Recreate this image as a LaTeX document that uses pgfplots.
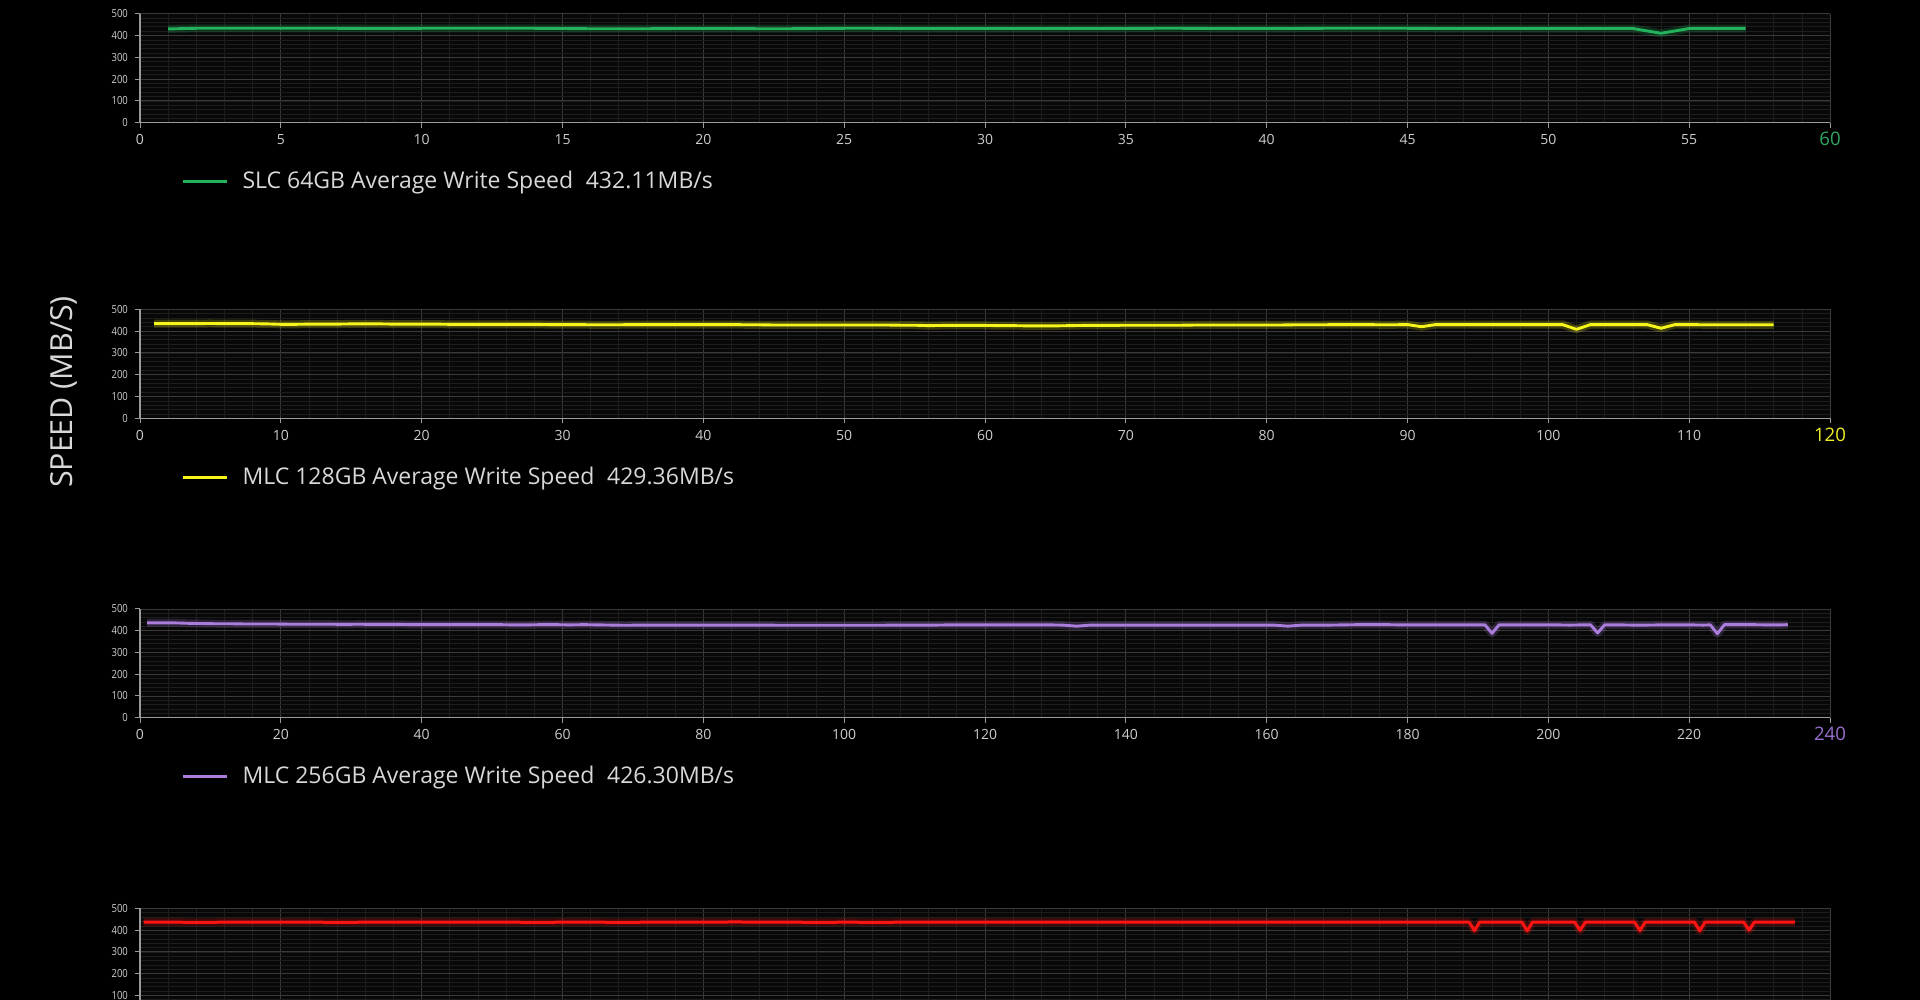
\documentclass[border=0pt]{standalone}
\usepackage{pgfplots}
\pgfplotsset{compat=1.18}
\usepackage{pgfplotstable}
\usepackage{fontspec}
\setmainfont{Open Sans}
\newfontfamily\condfont[FakeStretch=0.85]{Open Sans}

\definecolor{cgreen}{HTML}{22B35C}
\definecolor{lgreen}{HTML}{2DA862}
\definecolor{cyellow}{HTML}{F5F51A}
\definecolor{lyellow}{HTML}{EEEE22}
\definecolor{cpurple}{HTML}{AA7CDC}
\definecolor{lpurple}{HTML}{9A70CF}
\definecolor{cred}{HTML}{FF1414}
\definecolor{gridmaj}{HTML}{3A3A3A}
\definecolor{gridmin}{HTML}{1D1D1D}
\definecolor{tickc}{HTML}{CDCDCD}
\definecolor{axisc}{HTML}{9A9A9A}
\definecolor{plotbg}{HTML}{080808}
\definecolor{legtext}{HTML}{D8D8D8}

\newcommand{\lastlabel}[2]{\raisebox{0pt}[5.6pt][0pt]{\textcolor{#1}{\fontsize{9.3}{10}\selectfont #2}}}

\pgfplotstableread{
x y
1 430
2 433
3 433
4 433
5 433
6 433
7 433
8 432
9 432
10 433
11 433
12 433
13 433
14 433
15 432
16 431
17 431
18 431
19 432
20 432
21 432
22 431
23 431
24 432
25 433
26 433
27 432
28 432
29 432
30 432
31 432
32 432
33 432
34 432
35 432
36 433
37 433
38 432
39 432
40 432
41 432
42 433
43 433
44 433
45 433
46 432
47 432
48 432
49 432
50 432
51 432
52 432
53 432
54 410
55 432
56 432
57 432
}\dataA

\pgfplotstableread{
x y
1 434
2 434
3 434
4 434
5 435
6 434
7 434
8 434
9 433
10 431
11 431
12 432
13 432
14 432
15 433
16 433
17 433
18 432
19 432
20 432
21 432
22 431
23 431
24 431
25 431
26 431
27 431
28 431
29 430
30 430
31 430
32 429
33 429
34 429
35 430
36 430
37 430
38 430
39 430
40 430
41 430
42 430
43 429
44 429
45 428
46 428
47 428
48 428
49 428
50 428
51 428
52 428
53 428
54 427
55 427
56 425
57 426
58 426
59 426
60 426
61 425
62 425
63 424
64 424
65 424
66 425
67 426
68 426
69 426
70 427
71 427
72 427
73 427
74 427
75 428
76 428
77 428
78 428
79 428
80 428
81 428
82 429
83 429
84 429
85 430
86 430
87 430
88 429
89 429
90 430
91 420
92 430
93 430
94 430
95 430
96 430
97 430
98 430
99 430
100 430
101 430
102 408
103 430
104 430
105 430
106 430
107 430
108 413
109 430
110 430
111 429
112 429
113 429
114 429
115 429
116 429
}\dataB

\pgfplotstableread{
x y
1 436
3 436
5 436
7 434
9 433
11 432
13 432
15 431
17 431
19 431
21 430
23 430
25 430
27 430
29 429
31 430
33 429
35 429
37 429
39 428
41 428
43 428
45 428
47 428
49 428
51 428
53 427
55 427
57 428
59 428
61 427
63 428
65 427
67 426
69 425
71 426
73 426
75 426
77 426
79 426
81 426
83 426
85 426
87 426
89 426
91 425
93 425
95 425
97 425
99 425
101 425
103 425
105 425
107 426
109 426
111 426
113 426
115 427
117 427
119 427
121 427
123 427
125 427
127 427
129 427
131 426
133 421
135 426
137 426
139 426
141 426
143 426
145 426
147 426
149 426
151 426
153 426
155 426
157 426
159 426
161 426
163 421
165 426
167 426
169 426
171 427
173 428
175 428
177 428
179 427
181 427
183 427
185 427
187 427
189 427
191 427
192 388
193 427
195 427
197 427
199 427
201 427
203 426
205 427
206 427
207 390
208 427
210 427
212 426
214 426
216 427
218 427
220 427
222 426
223 427
224 386
225 428
227 428
229 428
231 427
233 427
234 428
}\dataC

\pgfplotstableread{
x y
1 437
9 437
17 436
25 437
33 437
41 437
49 437
57 436
65 437
73 437
81 437
89 437
97 437
105 437
113 436
121 437
129 437
137 436
145 437
153 437
161 437
169 438
177 437
185 437
193 436
201 437
209 436
217 437
225 437
233 437
241 437
249 437
257 437
265 437
273 437
281 437
289 437
297 437
305 437
313 437
321 437
329 437
337 437
345 437
353 437
361 437
369 437
377.5 437
379 398
380.5 437
385 437
392.5 437
394 397
395.5 437
401 437
407.5 437
409 399
410.5 437
417 437
424.5 437
426 398
427.5 437
434 437
441.5 437
443 397
444.5 437
451 437
455.5 437
457 400
458.5 437
465 437
470 437
}\dataD

\pgfplotsset{
  panel/.style={
    scale only axis, width=845pt, height=54.5pt,
    anchor=south west,
    xmin=0, ymin=0, ymax=500,
    axis lines=left,
    axis line style={-, draw=axisc, line width=0.6pt},
    tick align=outside, major tick length=2.5pt, minor tick length=0pt,
    tick style={draw=axisc, line width=0.5pt},
    ytick={0,100,...,500},
    minor ytick={0,20,...,500},
    grid=both,
    major grid style={draw=gridmaj, line width=0.45pt},
    minor grid style={draw=gridmin, line width=0.35pt},
    /pgf/number format/assume math mode=true,
    xticklabel style={font=\fontsize{7}{8}\selectfont, text=tickc},
    yticklabel style={font=\condfont\fontsize{5.6}{6}\selectfont, text=tickc},
    axis background/.style={fill=plotbg},
    legend cell align=left,
    legend style={draw=none, fill=none, text=legtext,
      font=\fontsize{11.5}{13}\selectfont, anchor=west,
      inner sep=0pt, outer sep=0pt, at={(0.0243,-0.54)},
      nodes={inner sep=0pt}},
    legend image code/.code={\draw[line width=1.5pt] (0pt,0pt) -- (22pt,0pt);
      \path[draw=none] (0pt,0pt) -- (30pt,0pt);},
    every axis plot/.append style={line join=round},
  },
}

\begin{document}
\begin{tikzpicture}
\path[use as bounding box] (0,0) rectangle (960pt,500pt);
\fill[black] (0,0) rectangle (960pt,500pt);
\node[rotate=90, text=legtext, font=\fontsize{15.2}{17}\selectfont] at (32pt,304pt) {SPEED (MB/S)};
\begin{scope}
\clip (0,0) rectangle (960pt,500pt);

% Panel 1
\begin{axis}[panel, at={(70pt,438.65pt)}, xmax=60,
  xtick={0,5,...,55}, minor xtick={0,1,...,60},
  extra x ticks={60}, extra x tick labels={\lastlabel{lgreen}{60}},
  extra x tick style={grid=major}]
\addplot[cgreen, line width=4pt, opacity=0.22, forget plot] table {\dataA};
\addplot[cgreen, line width=1.45pt] table {\dataA};
\addlegendentry{SLC 64GB Average Write Speed\hspace{0.55em}432.11MB/s}
\end{axis}

% Panel 2
\begin{axis}[panel, at={(70pt,290.85pt)}, xmax=120,
  xtick={0,10,...,110}, minor xtick={0,2,...,120},
  extra x ticks={120}, extra x tick labels={\lastlabel{lyellow}{120}},
  extra x tick style={grid=major}]
\addplot[cyellow, line width=4pt, opacity=0.22, forget plot] table {\dataB};
\addplot[cyellow, line width=1.45pt] table {\dataB};
\addlegendentry{MLC 128GB Average Write Speed\hspace{0.55em}429.36MB/s}
\end{axis}

% Panel 3
\begin{axis}[panel, at={(70pt,141.15pt)}, height=54.35pt, xmax=240,
  xtick={0,20,...,220}, minor xtick={0,4,...,240},
  extra x ticks={240}, extra x tick labels={\lastlabel{lpurple}{240}},
  extra x tick style={grid=major}]
\addplot[cpurple, line width=4pt, opacity=0.22, forget plot] table {\dataC};
\addplot[cpurple, line width=1.45pt] table {\dataC};
\addlegendentry{MLC 256GB Average Write Speed\hspace{0.55em}426.30MB/s}
\end{axis}

% Panel 4 (cut off at the bottom of the picture, as in the reference)
\begin{axis}[panel, at={(70pt,-8.5pt)}, height=54.25pt, xmax=480,
  xtick={0,40,...,440}, minor xtick={0,8,...,480}, xticklabels={},
  extra x ticks={480}, extra x tick labels={},
  extra x tick style={grid=major}]
\addplot[cred, line width=4pt, opacity=0.22, forget plot] table {\dataD};
\addplot[cred, line width=1.5pt] table {\dataD};
\end{axis}
\end{scope}
\end{tikzpicture}
\end{document}
